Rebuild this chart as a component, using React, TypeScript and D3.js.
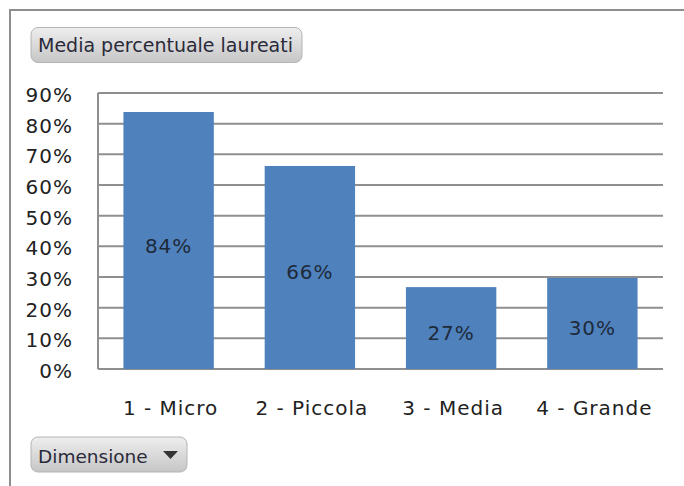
import * as d3 from 'd3';

const categories = ['1 - Micro', '2 - Piccola', '3 - Media', '4 - Grande'];
const values = [0.838, 0.662, 0.267, 0.297];
const yTicks = [0, 0.1, 0.2, 0.3, 0.4, 0.5, 0.6, 0.7, 0.8, 0.9];
const titleLabel = 'Media percentuale laureati';
const filterLabel = 'Dimensione';

const W = 684;
const H = 486;
const FONT = '"DejaVu Sans", Verdana, sans-serif';

export default function App() {
  const plot = { left: 98, right: 663, top: 93, bottom: 369 };

  const x = d3.scaleBand<string>()
    .domain(categories)
    .range([plot.left, plot.right])
    .paddingInner(0.36)
    .paddingOuter(0.18);

  const y = d3.scaleLinear()
    .domain([0, 0.9])
    .range([plot.bottom, plot.top]);

  const pct = d3.format('.0%');

  return (
    <svg width={W} height={H} style={{ position: 'absolute', left: 0, top: 0, background: '#fff' }}>
      <defs>
        <linearGradient id="btn" x1="0" y1="0" x2="0" y2="1">
          <stop offset="0" stopColor="#eeeeee" />
          <stop offset="1" stopColor="#c6c6c6" />
        </linearGradient>
      </defs>

      {/* outer frame */}
      <path d={`M10,${H} V10 H${W}`} fill="none" stroke="#8e8e8e" strokeWidth={2} />

      {/* title button */}
      <rect x={31} y={27.5} width={271} height={35} rx={7} fill="url(#btn)" stroke="#b4b4b4" />
      <text x={38} y={52} fontFamily={FONT} fontSize={19} fill="#2a2a3a">{titleLabel}</text>

      {/* gridlines */}
      {yTicks.map(t => (
        <line key={t} x1={plot.left} x2={plot.right} y1={y(t)} y2={y(t)} stroke="#8f8f8f" strokeWidth={2} />
      ))}
      <line x1={plot.left} x2={plot.left} y1={plot.top} y2={plot.bottom} stroke="#8f8f8f" strokeWidth={2} />

      {/* y tick labels */}
      {yTicks.map(t => (
        <text key={t} x={73} y={y(t) + 9} textAnchor="end" fontFamily={FONT} fontSize={20}
          letterSpacing={1} fill="#222">{pct(t)}</text>
      ))}

      {/* bars */}
      {categories.map((c, i) => (
        <g key={c}>
          <rect x={x(c)} y={y(values[i])} width={x.bandwidth()} height={plot.bottom - y(values[i])}
            fill="#4f81bd" />
          <text x={x(c)! + x.bandwidth() / 2} y={(y(values[i]) + plot.bottom) / 2 + 12}
            textAnchor="middle" fontFamily={FONT} fontSize={20} letterSpacing={1} fill="#1e2a3a">
            {pct(values[i])}
          </text>
          <text x={x(c)! + x.bandwidth() / 2 + 2} y={415} textAnchor="middle" fontFamily={FONT}
            fontSize={20} letterSpacing={1} fill="#222">{c}</text>
        </g>
      ))}

      {/* filter button */}
      <rect x={31} y={437} width={156} height={35} rx={7} fill="url(#btn)" stroke="#b4b4b4" />
      <text x={38} y={463} fontFamily={FONT} fontSize={18.5} fill="#2a2a3a">{filterLabel}</text>
      <path d="M163,451 L178,451 L170.5,459 Z" fill="#333" />
    </svg>
  );
}
